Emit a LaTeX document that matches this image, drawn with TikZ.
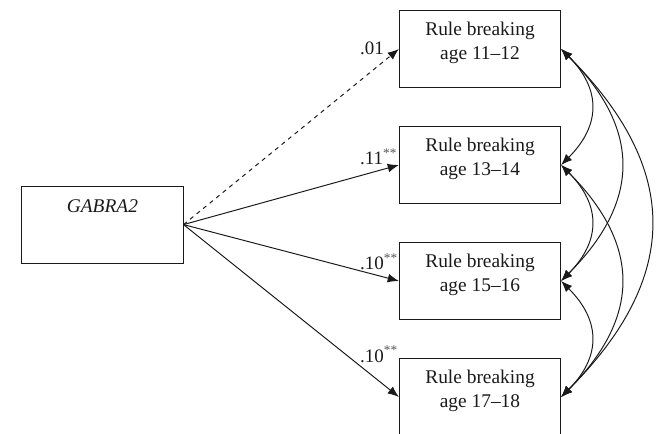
\documentclass[tikz,border=0pt]{standalone}
\usepackage{fontspec}
\setmainfont{Liberation Serif}
\usepackage{xcolor}
\usepackage{tikz}
\usetikzlibrary{calc,arrows.meta}
\definecolor{ink}{HTML}{1A1A1A}
\definecolor{star}{HTML}{555555}
\tikzset{
  box/.style={draw=ink, line width=0.7pt, minimum width=4.03cm, minimum height=1.92cm},
  lab/.style={text=ink, font=\fontsize{13.8}{16.5}\selectfont, align=center, inner sep=0pt, anchor=north},
  coef/.style={text=ink, font=\fontsize{13.5}{15}\selectfont, inner sep=0pt, anchor=base west},
  path/.style={draw=ink, line width=0.7pt, -{Latex[length=2.8mm,width=2.2mm]}},
  cov/.style={draw=ink, line width=0.7pt, {Latex[length=2.8mm,width=2.2mm]}-{Latex[length=2.8mm,width=2.2mm]},
    out=-45, in=45, looseness=1.25}
}
\begin{document}
\begin{tikzpicture}
  \useasboundingbox (0,0) rectangle (16.4,10.825);
  \node[box] (gab) at (2.56,5.21) {};
  \node[lab] (gabt) at ($(gab.north)+(0,-0.33)$) {\textit{GABRA2}};
  \foreach \i/\y/\a in {1/9.6/11--12,2/6.7/13--14,3/3.8/15--16,4/0.9/17--18}{
    \node[box] (rb\i) at (12.0,\y) {};
    \node[lab] (rbt\i) at ($(rb\i.north)+(0,-0.3)$) {Rule breaking\\age \a};
  }
  \draw[path, dashed] (gab.east) -- (rb1.west);
  \foreach \i in {2,3,4}{
    \draw[path] (gab.east) -- (rb\i.west);
  }
  \node[coef] (c1) at ($(rb1.west)+(-0.975,-0.15)$) {.01};
  \node[coef] (c2) at ($(rb2.west)+(-0.975,0)$) {.11\textsuperscript{\textcolor{star}{**}}};
  \node[coef] (c3) at ($(rb3.west)+(-0.975,0.275)$) {.10\textsuperscript{\textcolor{star}{**}}};
  \node[coef] (c4) at ($(rb4.west)+(-0.975,0.875)$) {.10\textsuperscript{\textcolor{star}{**}}};
  \foreach \a/\b in {1/2,1/3,1/4,2/3,2/4,3/4}{
    \draw[cov] (rb\a.east) to (rb\b.east);
  }
\end{tikzpicture}
\end{document}
